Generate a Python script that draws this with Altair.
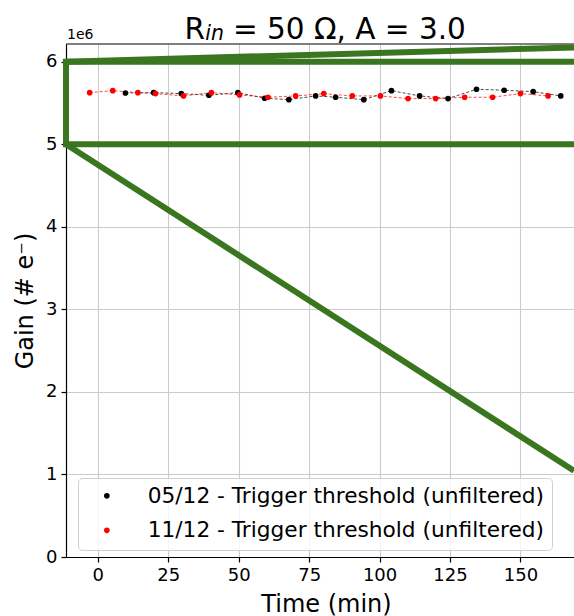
import altair as alt
import pandas as pd

FONT = "DejaVu Sans"
GREEN = "#3a761f"

# Series labels
black_label = "05/12 - Trigger threshold (unfiltered)"
red_label = "11/12 - Trigger threshold (unfiltered)"

# 05/12 run: time (min) and gain (electrons)
time_black = [9.8, 19.8, 29.6, 39.4, 49.7, 59.2, 67.8, 77.3, 84.4, 94.4,
              104.2, 114.2, 124.3, 134.4, 144.2, 154.5, 164.3]
gain_black = [5.621e6, 5.625e6, 5.613e6, 5.593e6, 5.625e6, 5.557e6, 5.540e6,
              5.585e6, 5.569e6, 5.540e6, 5.649e6, 5.585e6, 5.553e6, 5.666e6,
              5.654e6, 5.637e6, 5.585e6]

# 11/12 run
time_red = [-2.9, 5.3, 14.2, 20.5, 30.4, 40.3, 50.3, 60.4, 70.2, 80.2,
            90.3, 100.3, 110.1, 119.9, 130.2, 140.1, 150.0, 159.8]
gain_red = [5.625e6, 5.649e6, 5.625e6, 5.613e6, 5.585e6, 5.625e6, 5.597e6,
            5.569e6, 5.585e6, 5.613e6, 5.585e6, 5.585e6, 5.553e6, 5.553e6,
            5.569e6, 5.569e6, 5.613e6, 5.585e6]

# Axis ranges and ticks
x_domain = [-11.3, 169.0]
y_domain = [0, 6.214e6]
x_ticks = [0, 25, 50, 75, 100, 125, 150]
y_ticks = [0, 1e6, 2e6, 3e6, 4e6, 5e6, 6e6]

# Zoom indicator: box over the data band and connectors to the inset
box_x = [-11.3, 175.0]
box_y = [5.0e6, 6.0e6]
conn_x_start = [-11.3, -11.3]
conn_y_start = [6.0e6, 5.0e6]
conn_x_end = [169.0, 169.0]
conn_y_end = [6.172e6, 1.045e6]

df = pd.DataFrame({
    "time": time_black + time_red,
    "gain": gain_black + gain_red,
    "series": [black_label] * len(time_black) + [red_label] * len(time_red),
})

x_scale = alt.Scale(domain=x_domain, nice=False, zero=False)
y_scale = alt.Scale(domain=y_domain, nice=False, zero=False)
series_domain = [black_label, red_label]
series_range = ["black", "red"]

x_axis = alt.Axis(
    values=x_ticks, grid=True, title="Time (min)",
    titleX=260, titleY=54, titleAlign="center", titleBaseline="alphabetic",
)
y_axis = alt.Axis(
    values=y_ticks, grid=True, title="Gain (# e⁻)",
    labelExpr="datum.value / 1000000",
    titleX=-41, titleBaseline="middle",
)

base = alt.Chart(df)


def dashed_line(label, colour):
    return base.transform_filter(alt.datum.series == label).mark_line(
        strokeDash=[3, 2], strokeWidth=0.9, opacity=0.8, color=colour
    ).encode(
        x=alt.X("time:Q", scale=x_scale, axis=x_axis),
        y=alt.Y("gain:Q", scale=y_scale, axis=y_axis),
    )


line_black = dashed_line(black_label, "black")
line_red = dashed_line(red_label, "red")

points = base.mark_circle(size=32, opacity=1).encode(
    x=alt.X("time:Q", scale=x_scale, axis=x_axis),
    y=alt.Y("gain:Q", scale=y_scale, axis=y_axis),
    color=alt.Color(
        "series:N",
        scale=alt.Scale(domain=series_domain, range=series_range),
        legend=alt.Legend(
            title=None, orient="none", legendX=12, legendY=434,
            labelFontSize=21.7, labelFont=FONT, labelColor="black", labelLimit=0,
            symbolType="circle", symbolSize=32, symbolStrokeWidth=0,
            fillColor="rgba(255,255,255,0.8)", strokeColor="#d0d0d0", cornerRadius=4,
            padding=7, rowPadding=11.5, labelOffset=30, symbolOffset=11,
        ),
    ),
    order=alt.Order("series:N"),
)

# Top frame line at the upper end of the gain range
top_frame = alt.Chart(pd.DataFrame({"g": [y_domain[1]]})).mark_rule(
    color="black", strokeWidth=1.2
).encode(y=alt.Y("g:Q", scale=y_scale))

box_df = pd.DataFrame({"x": [box_x[0]], "x2": [box_x[1]], "y": [box_y[0]], "y2": [box_y[1]]})
box = alt.Chart(box_df).mark_rect(
    filled=False, stroke=GREEN, strokeWidth=6, clip=False
).encode(
    x=alt.X("x:Q", scale=x_scale),
    x2="x2:Q",
    y=alt.Y("y:Q", scale=y_scale),
    y2="y2:Q",
)

conn_df = pd.DataFrame({"x": conn_x_start, "y": conn_y_start, "x2": conn_x_end, "y2": conn_y_end})
connectors = alt.Chart(conn_df).mark_rule(
    stroke=GREEN, strokeWidth=6, strokeCap="butt", clip=False
).encode(
    x=alt.X("x:Q", scale=x_scale),
    y=alt.Y("y:Q", scale=y_scale),
    x2="x2:Q",
    y2="y2:Q",
)

# Title pieces: "R", italic subscript "in", then the rest
title_r = alt.Chart(pd.DataFrame({"t": ["R"]})).mark_text(
    font=FONT, fontSize=29.5, align="left", baseline="alphabetic", color="black"
).encode(text="t:N", x=alt.value(118.6), y=alt.value(-5.5))
title_sub = alt.Chart(pd.DataFrame({"t": ["in"]})).mark_text(
    font=FONT, fontSize=20.5, fontStyle="italic", align="left", baseline="alphabetic", color="black"
).encode(text="t:N", x=alt.value(139.2), y=alt.value(-4))
title_rest = alt.Chart(pd.DataFrame({"t": ["= 50 Ω, A = 3.0"]})).mark_text(
    font=FONT, fontSize=29.5, align="left", baseline="alphabetic", color="black"
).encode(text="t:N", x=alt.value(167.0), y=alt.value(-5.5))

offset_text = alt.Chart(pd.DataFrame({"t": ["1e6"]})).mark_text(
    font=FONT, fontSize=14, align="left", baseline="alphabetic", color="black"
).encode(text="t:N", x=alt.value(1), y=alt.value(-5))

chart = alt.layer(
    line_black, line_red, points, top_frame, box, connectors,
    title_r, title_sub, title_rest, offset_text
).properties(
    width=508, height=513,
    autosize=alt.AutoSizeParams(type="none"),
    padding={"left": 66, "top": 44, "right": 0, "bottom": 59},
).configure_view(
    stroke=None
).configure_axis(
    labelFont=FONT, titleFont=FONT, labelFontSize=18, titleFontSize=24,
    titleFontWeight="normal", labelColor="black", titleColor="black",
    domainColor="black", domainWidth=1.2, tickColor="black", tickWidth=1.2,
    tickSize=5, labelPadding=4, gridColor="#cbcbcb", gridWidth=1.1,
).configure_legend(
    labelFont=FONT
)

chart.save("out.html", embed_options={"renderer": "svg", "actions": False})
